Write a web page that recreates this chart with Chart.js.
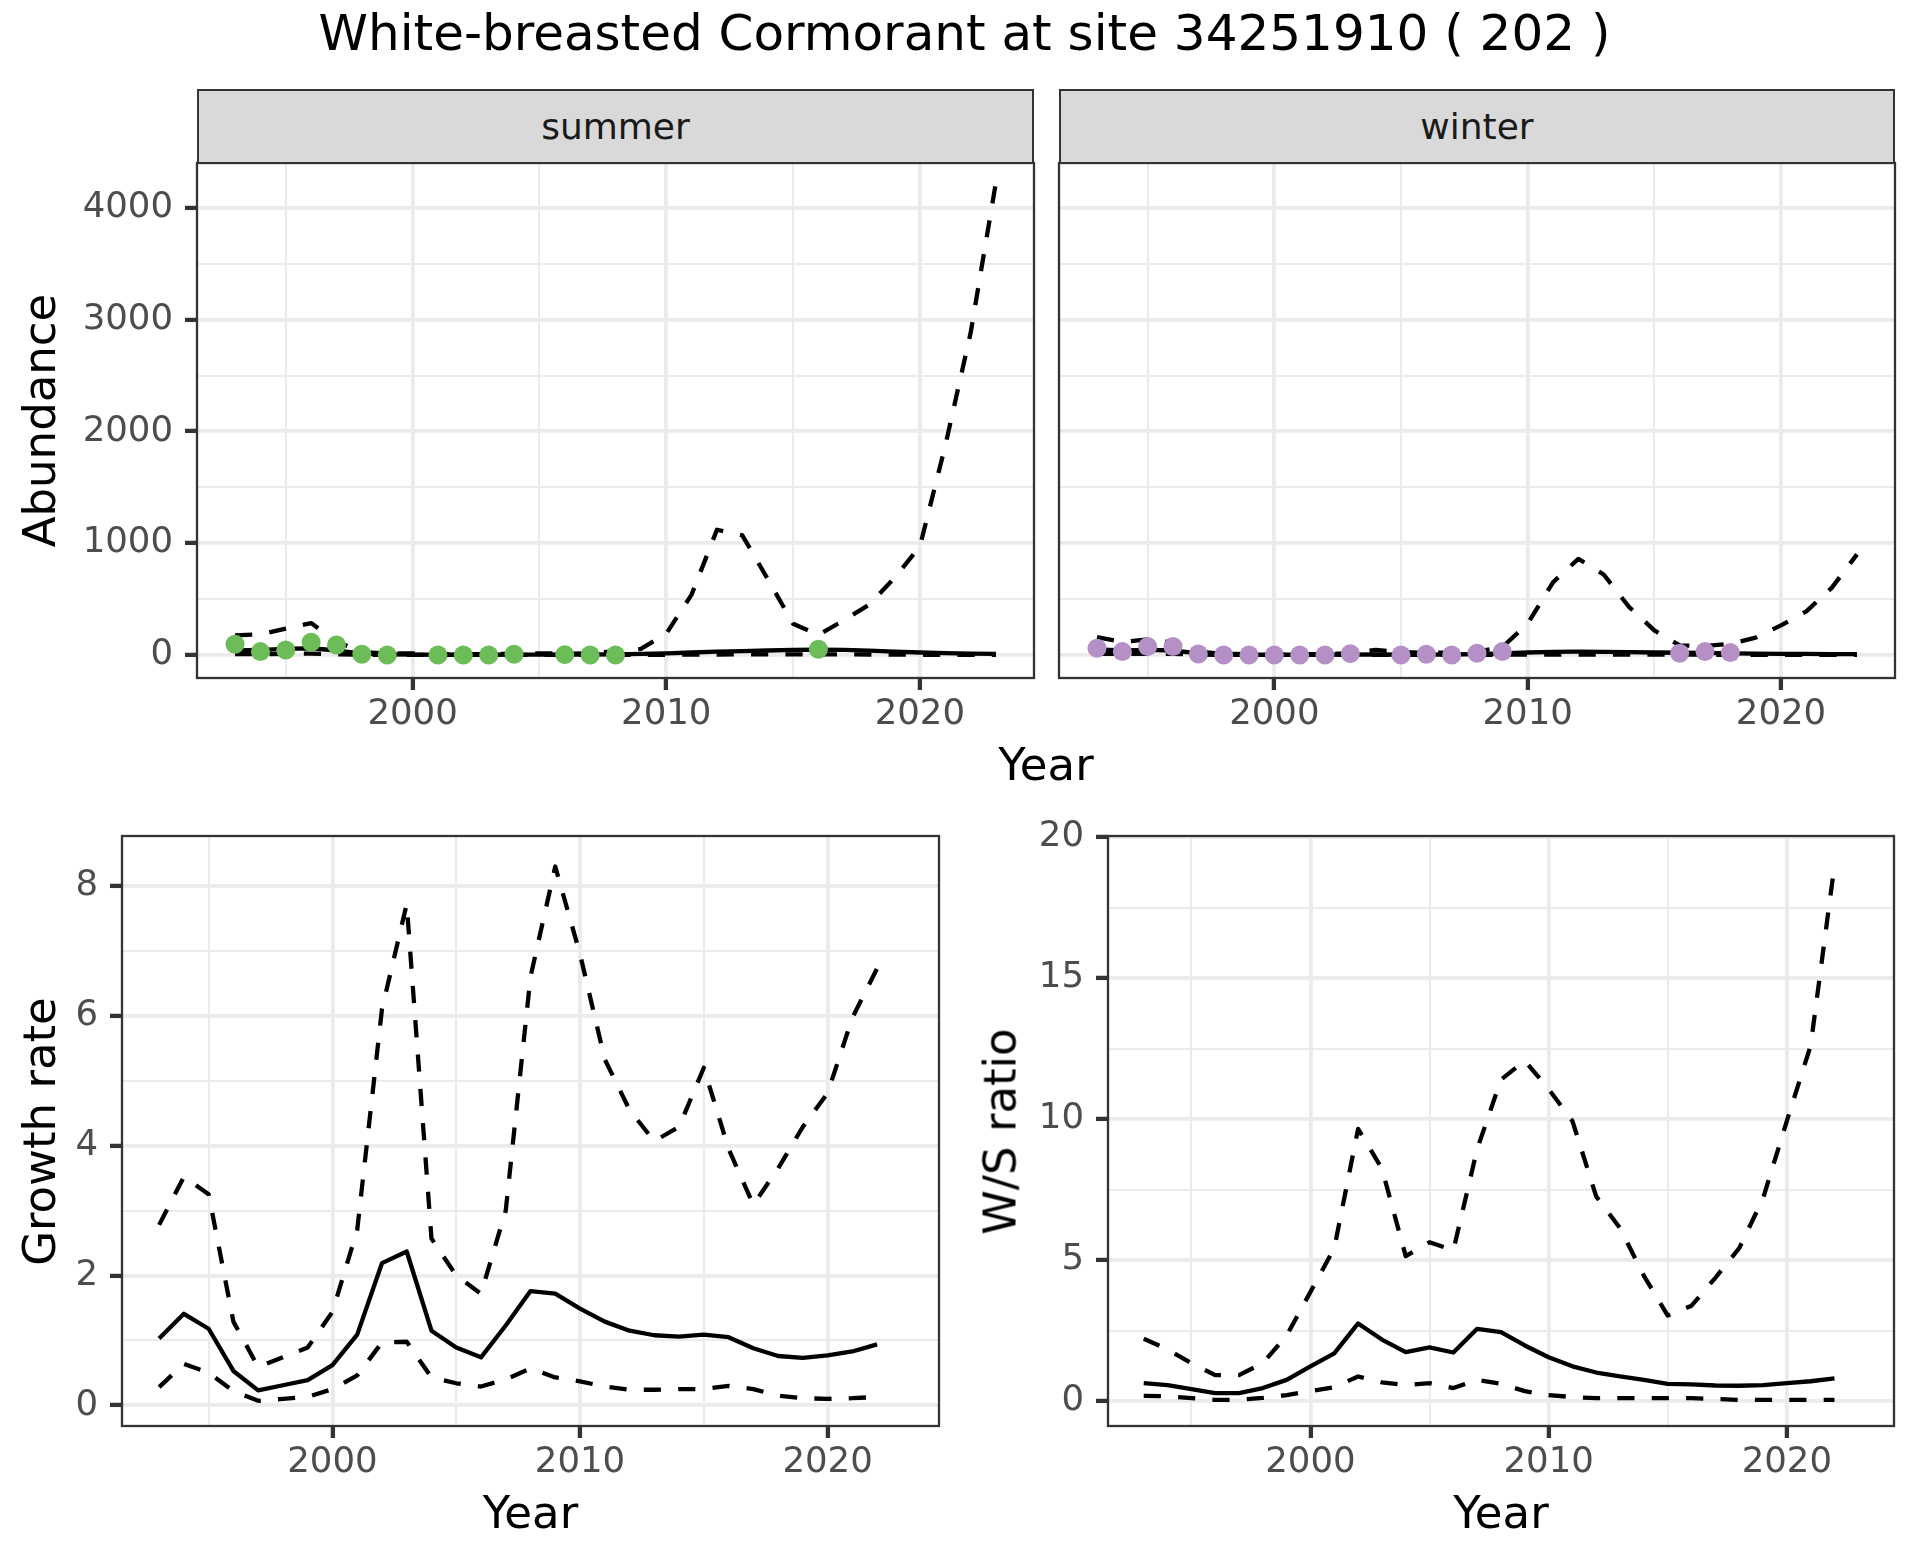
<!DOCTYPE html>
<html>
<head>
<meta charset="utf-8">
<script src="https://cdn.jsdelivr.net/npm/chart.js@4.4.1/dist/chart.umd.min.js"></script>
<style>
html,body{margin:0;padding:0;background:#ffffff;}
#page{position:relative;width:1920px;height:1560px;overflow:hidden;font-family:"DejaVu Sans",sans-serif;background:#fff;}
#page canvas{position:absolute;left:0;top:0;}
.txt{position:absolute;white-space:nowrap;line-height:1;color:#000;text-align:center;}
.strip{position:absolute;background:#D9D9D9;border:2.3px solid #333333;box-sizing:border-box;display:flex;align-items:center;justify-content:center;color:#1A1A1A;font-size:36px;line-height:1;}
</style>
</head>
<body>
<div id="page">
  <canvas id="cSummer" width="1920" height="1560"></canvas>
  <canvas id="cWinter" width="1920" height="1560"></canvas>
  <canvas id="cGrowth" width="1920" height="1560"></canvas>
  <canvas id="cRatio" width="1920" height="1560"></canvas>
</div>
<script>
// ---------------- DATA ----------------
const titleText = "White-breasted Cormorant at site 34251910 ( 202 )";
const facetLabels = ["summer", "winter"];
const xTitle = "Year";
const yTitleTop = "Abundance";
const yTitleGrowth = "Growth rate";
const yTitleRatio = "W/S ratio";

const yearsA = [1993,1994,1995,1996,1997,1998,1999,2000,2001,2002,2003,2004,2005,2006,2007,2008,2009,2010,2011,2012,2013,2014,2015,2016,2017,2018,2019,2020,2021,2022,2023];
const yearsB = [1993,1994,1995,1996,1997,1998,1999,2000,2001,2002,2003,2004,2005,2006,2007,2008,2009,2010,2011,2012,2013,2014,2015,2016,2017,2018,2019,2020,2021,2022];

const summerMean  = [40,45,55,60,40,12,5,3,2,2,2,3,3,3,4,6,10,15,22,30,35,40,45,48,45,38,30,22,16,12,10];
const summerUpper = [175,185,235,285,120,25,12,15,8,8,8,10,15,12,15,35,55,190,540,1120,1070,680,280,180,310,450,690,970,1870,2880,4230];
const summerLower = [8,8,10,12,6,1,0,0,0,0,0,0,0,0,0,1,1,2,3,4,5,5,6,6,5,4,3,2,1,1,1];
const summerObsYears = [1993,1994,1995,1996,1997,1998,1999,2001,2002,2003,2004,2006,2007,2008,2016];
const summerObs      = [96,30,45,114,90,6,0,0,0,0,6,3,0,0,51];

const winterMean  = [50,40,45,40,15,4,2,2,2,2,3,4,3,3,4,8,15,22,28,30,28,25,22,20,18,15,12,10,9,8,8];
const winterUpper = [160,115,140,110,30,10,8,8,8,8,15,45,25,20,20,30,70,280,650,860,720,430,220,85,80,100,155,265,390,600,900];
const winterLower = [10,10,10,10,3,0,0,0,0,0,0,0,0,0,0,1,2,3,4,4,4,3,3,3,2,2,1,1,1,1,1];
const winterObsYears = [1993,1994,1995,1996,1997,1998,1999,2000,2001,2002,2003,2005,2006,2007,2008,2009,2016,2017,2018];
const winterObs      = [60,30,75,75,9,0,0,0,0,0,12,0,6,0,15,30,15,30,21];

const growthMean  = [1.03,1.41,1.18,0.53,0.23,0.31,0.39,0.62,1.09,2.19,2.37,1.15,0.89,0.74,1.23,1.76,1.72,1.49,1.29,1.15,1.08,1.06,1.09,1.05,0.88,0.76,0.73,0.77,0.83,0.94];
const growthUpper = [2.78,3.52,3.25,1.29,0.59,0.74,0.89,1.44,2.7,6.1,7.72,2.57,2.0,1.72,3.0,6.6,8.3,6.95,5.33,4.55,4.07,4.29,5.2,3.95,3.09,3.65,4.29,4.81,5.97,6.73];
const growthLower = [0.28,0.64,0.5,0.22,0.07,0.10,0.13,0.25,0.46,0.97,0.98,0.43,0.34,0.29,0.40,0.57,0.43,0.37,0.29,0.24,0.24,0.25,0.25,0.30,0.25,0.15,0.11,0.10,0.11,0.13];

const ratioMean  = [0.63,0.56,0.42,0.28,0.28,0.46,0.75,1.23,1.69,2.75,2.18,1.73,1.9,1.72,2.56,2.44,1.97,1.55,1.23,1.01,0.87,0.75,0.61,0.59,0.55,0.54,0.56,0.63,0.7,0.8];
const ratioUpper = [2.21,1.83,1.34,0.92,0.92,1.34,2.32,3.87,5.42,9.65,8.24,5.14,5.63,5.35,8.94,11.4,12.07,11.06,9.93,7.25,6.13,4.44,3.03,3.38,4.37,5.42,7.18,9.93,12.6,19.0];
const ratioLower = [0.18,0.17,0.1,0.04,0.04,0.11,0.21,0.35,0.49,0.87,0.66,0.56,0.63,0.46,0.75,0.61,0.35,0.21,0.14,0.1,0.1,0.1,0.1,0.1,0.07,0.04,0.04,0.04,0.04,0.04];

const xMajor = [2000, 2010, 2020];
const xMinor = [1995, 2005, 2015];
const abundMajor = [0, 1000, 2000, 3000, 4000];
const abundMinor = [500, 1500, 2500, 3500];
const growthMajor = [0, 2, 4, 6, 8];
const growthMinor = [1, 3, 5, 7];
const ratioMajor = [0, 5, 10, 15, 20];
const ratioMinor = [2.5, 7.5, 12.5, 17.5];

// ---------------- STYLE / LAYOUT ----------------
const X_RANGE = [1991.5, 2024.5];
const FONT = "DejaVu Sans";
const TICK_SIZE = 35.5;
const AXIS_TITLE_SIZE = 45;
const LINE_W = 4.3;
const DASH = [17.2, 17.2];
const GRID = '#EBEBEB';
const DARK = '#333333';
const GREEN = '#6CBD58';
const PURPLE = '#B490C7';

const rects = {
  summer: {L:197,  R:1034, T:163, B:678, YW:150},
  winter: {L:1059, R:1895, T:163, B:678, YW:60},
  growth: {L:122,  R:939,  T:836, B:1426, YW:110},
  ratio:  {L:1108, R:1894, T:836, B:1426, YW:130}
};

const pts = (xs, ys) => xs.map((x, i) => ({x: x, y: ys[i]}));

const borderPlugin = {
  id: 'panelBorder',
  afterDraw(chart) {
    const a = chart.chartArea, ctx = chart.ctx;
    ctx.save();
    ctx.strokeStyle = DARK;
    ctx.lineWidth = 2.3;
    ctx.strokeRect(a.left, a.top, a.right - a.left, a.bottom - a.top);
    ctx.restore();
  }
};

function lineDS(xs, ys, dashed) {
  return {
    data: pts(xs, ys), borderColor: '#000000', borderWidth: LINE_W,
    borderDash: dashed ? DASH : [], pointRadius: 0, tension: 0, fill: false,
    borderJoinStyle: 'round', borderCapStyle: 'butt'
  };
}
function pointDS(xs, ys, col) {
  return {
    data: pts(xs, ys), showLine: false, pointRadius: 9.5, pointBorderWidth: 0,
    pointBackgroundColor: col, borderColor: col, backgroundColor: col
  };
}

function makePanel(id, rect, datasets, yRange, yMajor, yMinor, showYLabels) {
  const YW = rect.YW, XH = 70;
  const xTicks = xMinor.concat(xMajor).sort((a, b) => a - b);
  const yTicks = yMinor.concat(yMajor).sort((a, b) => a - b);
  const isXMaj = v => xMajor.indexOf(v) >= 0;
  const isYMaj = v => yMajor.indexOf(v) >= 0;
  new Chart(document.getElementById(id), {
    type: 'line',
    data: { datasets: datasets },
    options: {
      responsive: false, animation: false, devicePixelRatio: 1, events: [],
      layout: { padding: { left: rect.L - YW, top: rect.T, right: 1920 - rect.R, bottom: 1560 - rect.B - XH } },
      plugins: { legend: {display: false}, tooltip: {enabled: false}, title: {display: false} },
      scales: {
        x: {
          type: 'linear', min: X_RANGE[0], max: X_RANGE[1], bounds: 'data',
          afterBuildTicks: s => { s.ticks = xTicks.map(v => ({value: v})); },
          afterFit: s => { s.height = XH; },
          border: { display: false },
          grid: {
            color: GRID,
            lineWidth: c => (c.tick && isXMaj(c.tick.value)) ? 3.8 : 2,
            drawTicks: true, tickLength: 12, tickWidth: 4.3,
            tickColor: c => (c.tick && isXMaj(c.tick.value)) ? DARK : 'rgba(0,0,0,0)'
          },
          ticks: {
            autoSkip: false, maxRotation: 0, minRotation: 0, padding: 3,
            color: '#4D4D4D', font: {family: FONT, size: TICK_SIZE},
            callback: v => isXMaj(v) ? String(v) : ''
          }
        },
        y: {
          type: 'linear', min: yRange[0], max: yRange[1], bounds: 'data',
          afterBuildTicks: s => { s.ticks = yTicks.map(v => ({value: v})); },
          afterFit: s => { s.width = YW; },
          border: { display: false },
          grid: {
            color: GRID,
            lineWidth: c => (c.tick && isYMaj(c.tick.value)) ? 3.8 : 2,
            drawTicks: showYLabels, tickLength: showYLabels ? 12 : 0, tickWidth: 4.3,
            tickColor: c => (showYLabels && c.tick && isYMaj(c.tick.value)) ? DARK : 'rgba(0,0,0,0)'
          },
          ticks: {
            display: showYLabels, autoSkip: false, padding: 12,
            color: '#4D4D4D', font: {family: FONT, size: TICK_SIZE},
            callback: v => isYMaj(v) ? String(v) : ''
          }
        }
      }
    },
    plugins: [borderPlugin]
  });
}

const ABUND_RANGE = [-206, 4401];
makePanel('cSummer', rects.summer, [
  pointDS(summerObsYears, summerObs, GREEN),
  lineDS(yearsA, summerMean, false),
  lineDS(yearsA, summerUpper, true),
  lineDS(yearsA, summerLower, true)
], ABUND_RANGE, abundMajor, abundMinor, true);

makePanel('cWinter', rects.winter, [
  pointDS(winterObsYears, winterObs, PURPLE),
  lineDS(yearsA, winterMean, false),
  lineDS(yearsA, winterUpper, true),
  lineDS(yearsA, winterLower, true)
], ABUND_RANGE, abundMajor, abundMinor, false);

makePanel('cGrowth', rects.growth, [
  lineDS(yearsB, growthMean, false),
  lineDS(yearsB, growthUpper, true),
  lineDS(yearsB, growthLower, true)
], [-0.318, 8.77], growthMajor, growthMinor, true);

makePanel('cRatio', rects.ratio, [
  lineDS(yearsB, ratioMean, false),
  lineDS(yearsB, ratioUpper, true),
  lineDS(yearsB, ratioLower, true)
], [-0.887, 20.04], ratioMajor, ratioMinor, true);

// ---------------- TEXT ----------------
const page = document.getElementById('page');
function hText(str, cx, baseline, size, color) {
  const d = document.createElement('div');
  d.className = 'txt';
  d.textContent = str;
  d.style.fontSize = size + 'px';
  d.style.width = '2000px';
  d.style.left = (cx - 1000) + 'px';
  d.style.top = (baseline - 0.846 * size) + 'px';
  if (color) d.style.color = color;
  page.appendChild(d);
}
function vText(str, baselineX, cy, size) {
  const d = document.createElement('div');
  d.className = 'txt';
  d.textContent = str;
  d.style.fontSize = size + 'px';
  d.style.width = '1000px';
  d.style.height = size + 'px';
  const cx = baselineX - 0.346 * size;
  d.style.left = (cx - 500) + 'px';
  d.style.top = (cy - size / 2) + 'px';
  d.style.transform = 'rotate(-90deg)';
  page.appendChild(d);
}
function strip(str, r) {
  const d = document.createElement('div');
  d.className = 'strip';
  d.textContent = str;
  d.style.left = r.L + 'px';
  d.style.width = (r.R - r.L) + 'px';
  d.style.top = '89px';
  d.style.height = (r.T - 89 + 1) + 'px';
  page.appendChild(d);
}

hText(titleText, 964.5, 50, 50);
strip(facetLabels[0], rects.summer);
strip(facetLabels[1], rects.winter);
hText(xTitle, (rects.summer.L + rects.winter.R) / 2, 780, AXIS_TITLE_SIZE);
hText(xTitle, (rects.growth.L + rects.growth.R) / 2, 1528, AXIS_TITLE_SIZE);
hText(xTitle, (rects.ratio.L + rects.ratio.R) / 2, 1528, AXIS_TITLE_SIZE);
vText(yTitleTop, 55, (rects.summer.T + rects.summer.B) / 2, AXIS_TITLE_SIZE);
vText(yTitleGrowth, 55, (rects.growth.T + rects.growth.B) / 2, AXIS_TITLE_SIZE);
vText(yTitleRatio, 1016, (rects.ratio.T + rects.ratio.B) / 2, AXIS_TITLE_SIZE);
</script>
</body>
</html>
